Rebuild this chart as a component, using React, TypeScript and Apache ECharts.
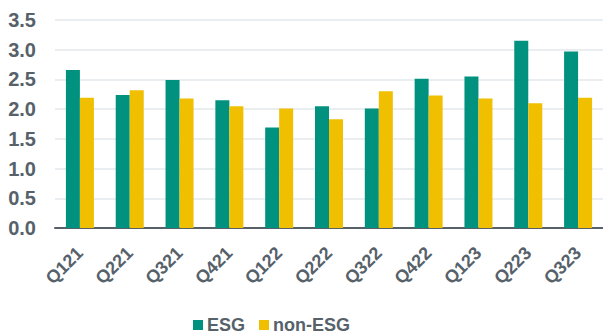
import React, { useEffect, useRef } from "react";
import * as echarts from "echarts";

const categories = ["Q121", "Q221", "Q321", "Q421", "Q122", "Q222", "Q322", "Q422", "Q123", "Q223", "Q323"];
const esgValues = [2.66, 2.24, 2.49, 2.15, 1.69, 2.05, 2.01, 2.51, 2.55, 3.15, 2.97];
const nonEsgValues = [2.19, 2.32, 2.18, 2.05, 2.01, 1.83, 2.30, 2.23, 2.18, 2.10, 2.19];

const TEXT = "#56616a";

export default function App() {
  const ref = useRef<HTMLDivElement>(null);
  useEffect(() => {
    document.body.style.margin = "0";
    const chart = echarts.init(ref.current!, null, { renderer: "svg" });
    chart.setOption({
      animation: false,
      textStyle: { fontFamily: "Liberation Sans, Arial, sans-serif" },
      grid: { left: 55, right: -1, top: 20, bottom: 106 },
      legend: {
        left: 193,
        top: 316,
        padding: 0,
        itemWidth: 10,
        itemHeight: 10,
        itemGap: 14,
        icon: "rect",
        textStyle: { color: TEXT, fontSize: 18, lineHeight: 18, fontWeight: "bold", padding: [0, 0, 0, -1] },
        data: ["ESG", "non-ESG"],
      },
      xAxis: {
        type: "category",
        data: categories,
        axisLine: { lineStyle: { color: "#56616a", width: 2 } },
        axisTick: { lineStyle: { color: "#56616a", width: 2 }, length: 5 },
        axisLabel: {
          rotate: 45,
          color: TEXT,
          fontSize: 18,
          fontWeight: "bold",
          margin: 22,
        },
      },
      yAxis: {
        type: "value",
        min: 0,
        max: 3.5,
        interval: 0.5,
        axisLine: { show: false },
        axisTick: { show: false },
        axisLabel: {
          color: TEXT,
          fontSize: 20,
          fontWeight: "bold",
          margin: 19,
          formatter: (v: number) => v.toFixed(1),
        },
        splitLine: { lineStyle: { color: "#e3e8eb", width: 1.5 } },
      },
      series: [
        {
          name: "ESG",
          type: "bar",
          data: esgValues,
          barWidth: 14,
          barGap: "0%",
          itemStyle: { color: "#00927f" },
        },
        {
          name: "non-ESG",
          type: "bar",
          data: nonEsgValues,
          barWidth: 14,
          barGap: "0%",
          itemStyle: { color: "#f0bf00" },
        },
      ],
    });
    return () => chart.dispose();
  }, []);
  return <div ref={ref} style={{ width: 603, height: 334 }} />;
}
